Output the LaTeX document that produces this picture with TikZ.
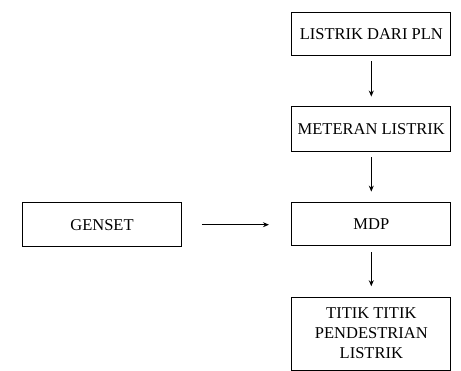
\documentclass[tikz,border=0pt]{standalone}
\usepackage{fontspec}
\setmainfont{Liberation Serif}
\usetikzlibrary{arrows.meta}
\begin{document}
\begin{tikzpicture}[x=1pt,y=-1pt,
  boxnode/.style={draw=black,line width=0.9pt,minimum width=159pt,inner sep=0pt,align=center,font=\fontsize{16.5}{20}\selectfont},
  flow/.style={line width=0.9pt,-{Stealth[length=6pt,width=5pt]}}]
\useasboundingbox (0,0) rectangle (461,371);
\node[boxnode,minimum height=42.7pt] (pln) at (371.3,33.7) {LISTRIK DARI PLN};
\node[boxnode,minimum height=45pt] (meter) at (371.3,129.2) {METERAN LISTRIK};
\node[boxnode,minimum height=42.3pt] (mdp) at (371.3,223.9) {MDP};
\node[boxnode,minimum height=73pt] (titik) at (371.3,333.5) {TITIK TITIK\\PENDESTRIAN\\LISTRIK};
\node[boxnode,minimum height=44pt] (genset) at (102,224.7) {GENSET};
\draw[flow,shorten <=6pt,shorten >=9.7pt] (pln) -- (meter);
\draw[flow,shorten <=5.3pt,shorten >=10.7pt] (meter) -- (mdp);
\draw[flow,shorten <=6.7pt,shorten >=10.3pt] (mdp) -- (titik);
\draw[flow,shorten <=20pt,shorten >=22.4pt] (genset.east) -- (genset.east -| mdp.west);
\end{tikzpicture}
\end{document}
